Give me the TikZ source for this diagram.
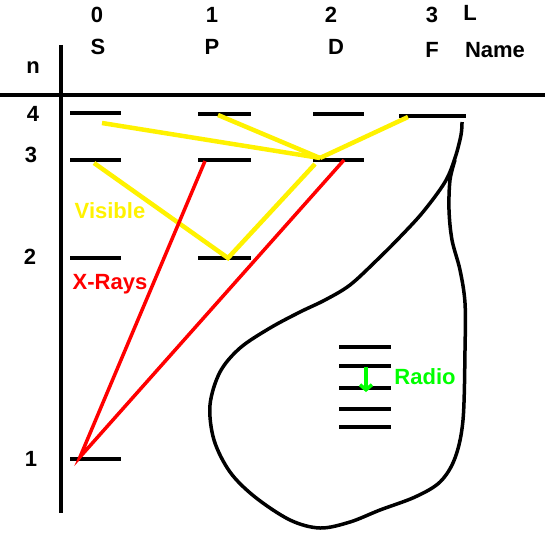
\documentclass[tikz,border=0pt]{standalone}
\usepackage{fontspec}
\setmainfont{Liberation Sans}
\usetikzlibrary{arrows.meta}

\begin{document}
\begin{tikzpicture}[x=1pt,y=-1pt,
    lab/.style={font=\fontsize{22}{26}\selectfont\bfseries, inner sep=0pt},
    niv/.style={line width=4.5pt},
    vis/.style={yellow, line width=4.5pt},
    xray/.style={red, line width=3.5pt}]
    \useasboundingbox (0,0) rectangle (545,535);
    % axes
    \draw[line width=4.5pt] (0,95) -- (545,95);
    \draw[line width=4.5pt] (61,45) -- (61,513);
    % en-tête
    \node[lab] (l0) at (97,15) {0};
    \node[lab] (l1) at (212,15) {1};
    \node[lab] (l2) at (331,15) {2};
    \node[lab] (l3) at (432,15) {3};
    \node[lab] (lL) at (470,13) {L};
    \node[lab] (nS) at (98,47) {S};
    \node[lab] (nP) at (212,47) {P};
    \node[lab] (nD) at (336,47) {D};
    \node[lab] (nF) at (432,50) {F};
    \node[lab] (nName) at (495,50) {Name};
    \node[lab] (nn) at (33,68) {n};
    \node[lab] (n4) at (33,114) {4};
    \node[lab] (n3) at (31,155) {3};
    \node[lab] (n2) at (30,257) {2};
    \node[lab] (n1) at (31,459) {1};
    % niveaux
    \foreach \y in {113,160,258,459} \draw[niv] (70,\y) -- ++(51,0);
    \foreach \y in {114,160,258} \draw[niv] (198,\y) -- ++(53,0);
    \foreach \y in {114,160} \draw[niv] (313,\y) -- ++(51,0);
    \draw[niv] (399,116) -- ++(67,0);
    \foreach \y in {347,366,388,409,427} \draw[niv] (339,\y) -- ++(52,0);
    % points des transitions
    \coordinate (S4) at (102,123);
    \coordinate (P4) at (218,115);
    \coordinate (F4) at (408,117);
    \coordinate (D3) at (320,158);
    \coordinate (D3b) at (315,164);
    \coordinate (S3) at (94,163);
    \coordinate (P2) at (228,258);
    \coordinate (P3) at (205,161);
    \coordinate (D3r) at (344,160);
    \coordinate (S1) at (80,457);
    % transitions
    \draw[vis] (S4) -- (D3);
    \draw[vis] (P4) -- (D3);
    \draw[vis] (F4) -- (D3);
    \draw[vis] (S3) -- (P2) -- (D3b);
    \draw[xray] (P3) -- (S1) -- (D3r);
    % la poire
    \draw[line width=3.5pt] plot[smooth, tension=0.55] coordinates {(462,122) (461,135)
      (455,158) (445,182) (423,212) (400,237) (377,260) (350,285) (325,300)
      (300,312) (270,328) (240,348) (220,372) (210,405) (214,440) (230,472)
      (255,497) (290,520) (320,528) (350,522) (380,510) (415,497) (440,482)
      (455,458) (463,420) (465,350) (465,303) (460,270) (452,240) (449,210)
      (450,180) (455,160)};
    % noms des domaines
    \node[lab, yellow] (vis) at (110,211) {Visible};
    \node[lab, red] (xr) at (110,284) {X-Rays};
    \node[lab, green] (rad) at (425,377) {Radio};
    \coordinate (ra) at (366,367);
    \coordinate (rb) at (366,392);
    \draw[green, line width=3.5pt, -{Straight Barb[length=5pt,width=12pt]}] (ra) -- (rb);
\end{tikzpicture}
\end{document}
